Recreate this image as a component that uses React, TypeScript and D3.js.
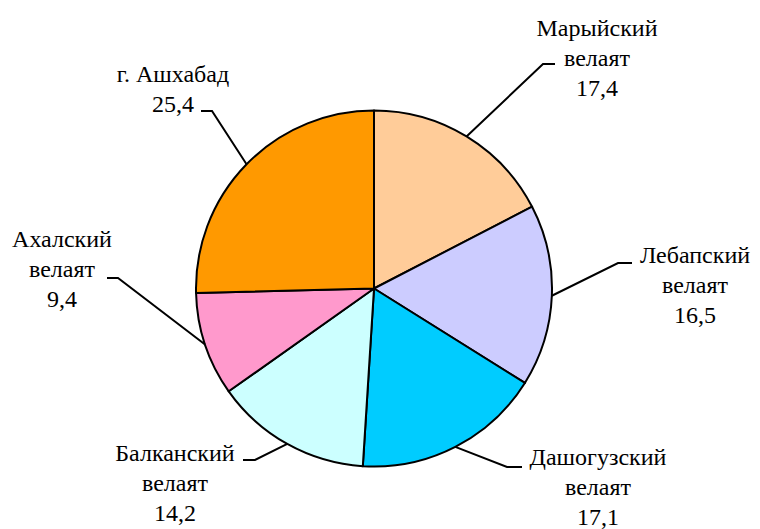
import React, { useEffect, useState } from "react";
import * as d3 from "d3";

const regions = ["Марыйский\nвелаят", "Лебапский\nвелаят", "Дашогузский\nвелаят", "Балканский\nвелаят", "Ахалский\nвелаят", "г. Ашхабад"];
const shares = [17.4, 16.5, 17.1, 14.2, 9.4, 25.4];
const colors = ["#FFCC99", "#CCCCFF", "#00CCFF", "#CCFFFF", "#FF99CC", "#FF9900"];

// label placement (text block centre x, first baseline y, elbow point, end of horizontal tick)
const labelLayout = [
  { tx: 597, ty: 36, ex: 543, ey: 64, hx: 555 },
  { tx: 695, ty: 263, ex: 618, ey: 263, hx: 632 },
  { tx: 598, ty: 465, ex: 507, ey: 467, hx: 522 },
  { tx: 175, ty: 461, ex: 255, ey: 460, hx: 243 },
  { tx: 62, ty: 247, ex: 118, ey: 278, hx: 107 },
  { tx: 173, ty: 82, ex: 212, ey: 111, hx: 201 },
];

const W = 760, H = 529;
const cx = 374, cy = 288.5, R = 178;
const FONT = "'Liberation Serif', 'Times New Roman', Tinos, serif";

export default function App() {
  const [tick, setTick] = useState(0);
  useEffect(() => {
    const f: any = (document as any).fonts;
    if (f && f.load) {
      f.load("24px 'Liberation Serif'", "Марыйский").then(() => setTick((t) => t + 1)).catch(() => {});
    }
  }, []);
  const pie = d3.pie<number>().sort(null).value((d) => d);
  const arcs = pie(shares);
  const arcGen = d3.arc<d3.PieArcDatum<number>>().innerRadius(0).outerRadius(R);
  const fmt = (v: number) => v.toFixed(1).replace(".", ",");
  return (
    <svg width={W} height={H} style={{ position: "absolute", left: 0, top: 0, background: "#fff" }}>
      <g transform={`translate(${cx},${cy})`}>
        {arcs.map((a, i) => (
          <path key={i} d={arcGen(a) || ""} fill={colors[i]} stroke="#000" strokeWidth={2} strokeLinejoin="round" />
        ))}
      </g>
      {arcs.map((a, i) => {
        const mid = (a.startAngle + a.endAngle) / 2;
        const px = cx + R * Math.sin(mid);
        const py = cy - R * Math.cos(mid);
        const L = labelLayout[i];
        const lines = [...regions[i].split("\n"), fmt(shares[i])];
        return (
          <g key={i + "-" + tick}>
            <polyline points={`${px},${py} ${L.ex},${L.ey} ${L.hx},${L.ey}`} fill="none" stroke="#000" strokeWidth={2} />
            {lines.map((t, j) => (
              <text key={j} x={L.tx} y={L.ty + j * 30} textAnchor="middle" fontFamily={FONT} fontSize={24} fill="#000">{t}</text>
            ))}
          </g>
        );
      })}
    </svg>
  );
}
